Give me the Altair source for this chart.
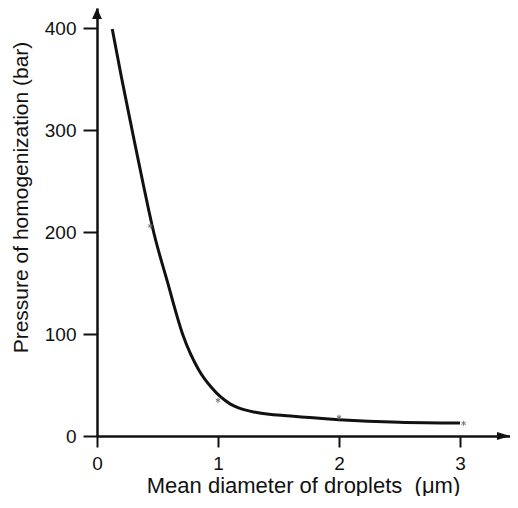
import altair as alt
import pandas as pd

# fitted curve
curve_x = [0.126, 0.2, 0.29, 0.38, 0.47, 0.58, 0.71, 0.84, 0.95, 1.02, 1.1, 1.17, 1.32, 1.6, 2.0, 2.5, 3.0]
curve_y = [399, 353, 300, 248, 199, 152, 99, 65, 47, 38.5, 31.5, 27.5, 23, 19.5, 16, 13.5, 12.7]

# measured points (asterisks)
pt_x = [0.44, 1.0, 2.0, 3.03]
pt_y = [206, 35, 18.5, 12.4]

x_ticks = [0, 1, 2, 3]
y_ticks = [0, 100, 200, 300, 400]

W, H = 413, 428
XMAX = W / 121.0
YMAX = H / 1.02

curve = pd.DataFrame({"x": curve_x, "y": curve_y})
pts = pd.DataFrame({"x": pt_x, "y": pt_y})

FONT = "Liberation Sans"

xs = alt.Scale(domain=[0, XMAX], nice=False, zero=False)
ys = alt.Scale(domain=[0, YMAX], nice=False, zero=False)

line = alt.Chart(curve).mark_line(
    color="#111111", strokeWidth=3, interpolate="monotone"
).encode(
    x=alt.X("x:Q", scale=xs, axis=alt.Axis(
        values=x_ticks, format="d", title="Mean diameter of droplets\u00a0 (μm)",
        tickSize=11, labelPadding=7, labelFlush=False, titleY=56, titleX=206,
        titleBaseline="alphabetic", titleAlign="center")),
    y=alt.Y("y:Q", scale=ys, axis=alt.Axis(
        values=y_ticks, format="d", title="Pressure of homogenization (bar)",
        tickSize=14, labelPadding=7, labelFlush=False, titleX=-70, titleY=189,
        titleBaseline="alphabetic", titleAlign="center", titleAngle=270,
        titleFontSize=21)),
)

stars = alt.Chart(pts).mark_point(
    shape="M0,-1L0,1M-0.87,-0.5L0.87,0.5M-0.87,0.5L0.87,-0.5",
    size=25, stroke="#777777", strokeWidth=1, filled=False, opacity=1
).encode(x=alt.X("x:Q", scale=xs), y=alt.Y("y:Q", scale=ys))

arrow_r = alt.Chart(pd.DataFrame({"a": [0]})).mark_point(
    shape="M-1,-0.62L1,0L-1,0.62Z", size=169, filled=True,
    color="#111111", opacity=1
).encode(x=alt.value(W - 6.5), y=alt.value(H))

arrow_u = alt.Chart(pd.DataFrame({"a": [0]})).mark_point(
    shape="M-0.9,1L0,-1L0.9,1Z", size=121, filled=True,
    color="#111111", opacity=1
).encode(x=alt.value(0), y=alt.value(5.5))

chart = alt.layer(line, stars, arrow_r, arrow_u).properties(
    width=W, height=H,
    autosize=alt.AutoSizeParams(type="none"),
    padding={"left": 89, "top": 0, "right": 0, "bottom": 60},
).configure_view(stroke=None).configure_axis(
    grid=False, domainColor="#111111", domainWidth=2.5,
    tickColor="#111111", tickWidth=2,
    labelFont=FONT, labelFontSize=19, labelColor="#111111",
    titleFont=FONT, titleFontSize=22, titleColor="#111111",
    titleFontWeight="normal",
)

chart.save("out.html", embed_options={"renderer": "svg", "actions": False})
